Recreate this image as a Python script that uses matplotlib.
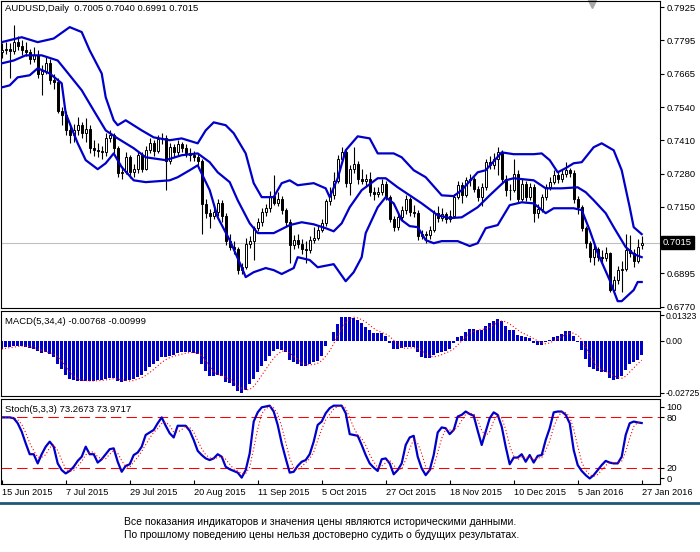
import matplotlib
matplotlib.use("Agg")
import matplotlib.pyplot as plt
import matplotlib.transforms as mtransforms
import numpy as np
import pandas as pd

plt.rcParams["font.family"] = ["Liberation Sans", "DejaVu Sans"]

# ---- daily AUDUSD bars, 15 Jun 2015 .. 27 Jan 2016 ----
opens = [0.7750, 0.7760, 0.7765, 0.7755, 0.7790, 0.7775, 0.7760, 0.7750, 0.7725, 0.7740,
         0.7665, 0.7680, 0.7710, 0.7645, 0.7636, 0.7525, 0.7510, 0.7450, 0.7430, 0.7450,
         0.7470, 0.7440, 0.7455, 0.7380, 0.7375, 0.7370, 0.7365, 0.7420, 0.7430, 0.7380,
         0.7285, 0.7290, 0.7345, 0.7290, 0.7300, 0.7355, 0.7300, 0.7375, 0.7400, 0.7370,
         0.7415, 0.7420, 0.7330, 0.7385, 0.7365, 0.7395, 0.7380, 0.7360, 0.7355, 0.7345,
         0.7330, 0.7165, 0.7130, 0.7120, 0.7135, 0.7170, 0.7120, 0.7020, 0.7000, 0.6990,
         0.6910, 0.6920, 0.7010, 0.7020, 0.7070, 0.7095, 0.7135, 0.7150, 0.7195, 0.7170,
         0.7185, 0.7140, 0.7095, 0.7005, 0.7025, 0.7010, 0.6990, 0.6985, 0.7025, 0.7035,
         0.7065, 0.7090, 0.7175, 0.7200, 0.7255, 0.7340, 0.7365, 0.7245, 0.7300, 0.7320,
         0.7262, 0.7255, 0.7262, 0.7211, 0.7205, 0.7210, 0.7243, 0.7192, 0.7108, 0.7076,
         0.7115, 0.7140, 0.7183, 0.7135, 0.7130, 0.7040, 0.7050, 0.7045, 0.7063, 0.7128,
         0.7110, 0.7125, 0.7108, 0.7120, 0.7192, 0.7237, 0.7200, 0.7256, 0.7260, 0.7224,
         0.7192, 0.7230, 0.7327, 0.7315, 0.7340, 0.7365, 0.7263, 0.7217, 0.7220, 0.7282,
         0.7185, 0.7243, 0.7192, 0.7230, 0.7128, 0.7147, 0.7192, 0.7230, 0.7250, 0.7275,
         0.7260, 0.7282, 0.7295, 0.7285, 0.7185, 0.7153, 0.7070, 0.7012, 0.6960, 0.6990,
         0.6960, 0.6954, 0.6975, 0.6832, 0.6870, 0.6910, 0.6915, 0.6986, 0.6975, 0.6946,
         0.7005]
closes = [0.7760, 0.7765, 0.7755, 0.7790, 0.7775, 0.7760, 0.7750, 0.7725, 0.7740, 0.7665,
          0.7680, 0.7710, 0.7645, 0.7636, 0.7525, 0.7510, 0.7450, 0.7430, 0.7450, 0.7470,
          0.7440, 0.7455, 0.7380, 0.7375, 0.7370, 0.7365, 0.7420, 0.7430, 0.7380, 0.7285,
          0.7290, 0.7345, 0.7290, 0.7300, 0.7355, 0.7300, 0.7375, 0.7400, 0.7370, 0.7415,
          0.7420, 0.7330, 0.7385, 0.7365, 0.7395, 0.7380, 0.7360, 0.7355, 0.7345, 0.7330,
          0.7165, 0.7130, 0.7120, 0.7135, 0.7170, 0.7120, 0.7020, 0.7000, 0.6990, 0.6910,
          0.6920, 0.7010, 0.7020, 0.7070, 0.7095, 0.7135, 0.7150, 0.7195, 0.7170, 0.7185,
          0.7140, 0.7095, 0.7005, 0.7025, 0.7010, 0.6990, 0.6985, 0.7025, 0.7035, 0.7065,
          0.7090, 0.7175, 0.7200, 0.7255, 0.7340, 0.7365, 0.7245, 0.7300, 0.7320, 0.7262,
          0.7255, 0.7262, 0.7211, 0.7205, 0.7210, 0.7243, 0.7192, 0.7108, 0.7076, 0.7115,
          0.7140, 0.7183, 0.7135, 0.7130, 0.7040, 0.7050, 0.7045, 0.7063, 0.7128, 0.7110,
          0.7125, 0.7108, 0.7120, 0.7192, 0.7237, 0.7200, 0.7256, 0.7260, 0.7224, 0.7192,
          0.7230, 0.7327, 0.7315, 0.7340, 0.7365, 0.7263, 0.7217, 0.7220, 0.7282, 0.7185,
          0.7243, 0.7192, 0.7230, 0.7128, 0.7147, 0.7192, 0.7230, 0.7250, 0.7275, 0.7260,
          0.7282, 0.7295, 0.7285, 0.7185, 0.7153, 0.7070, 0.7012, 0.6960, 0.6990, 0.6960,
          0.6954, 0.6975, 0.6832, 0.6870, 0.6910, 0.6915, 0.6986, 0.6975, 0.6946, 0.7000,
          0.7015]
highs = [0.7785, 0.7790, 0.7785, 0.7855, 0.7815, 0.7800, 0.7790, 0.7765, 0.7770, 0.7760,
         0.7700, 0.7735, 0.7725, 0.7665, 0.7650, 0.7540, 0.7525, 0.7475, 0.7475, 0.7500,
         0.7480, 0.7495, 0.7470, 0.7410, 0.7400, 0.7390, 0.7440, 0.7450, 0.7440, 0.7390,
         0.7310, 0.7365, 0.7355, 0.7320, 0.7370, 0.7365, 0.7390, 0.7420, 0.7410, 0.7430,
         0.7440, 0.7430, 0.7400, 0.7395, 0.7410, 0.7405, 0.7395, 0.7380, 0.7370, 0.7360,
         0.7340, 0.7185, 0.7145, 0.7160, 0.7185, 0.7180, 0.7130, 0.7050, 0.7020, 0.7000,
         0.6935, 0.7035, 0.7040, 0.7080, 0.7110, 0.7150, 0.7165, 0.7215, 0.7275, 0.7210,
         0.7195, 0.7150, 0.7105, 0.7045, 0.7050, 0.7030, 0.7020, 0.7040, 0.7075, 0.7080,
         0.7105, 0.7185, 0.7230, 0.7290, 0.7355, 0.7385, 0.7375, 0.7315, 0.7385, 0.7330,
         0.7300, 0.7280, 0.7290, 0.7230, 0.7230, 0.7260, 0.7255, 0.7200, 0.7120, 0.7130,
         0.7155, 0.7200, 0.7190, 0.7160, 0.7140, 0.7065, 0.7060, 0.7080, 0.7140, 0.7155,
         0.7150, 0.7135, 0.7140, 0.7205, 0.7255, 0.7250, 0.7270, 0.7280, 0.7270, 0.7235,
         0.7245, 0.7340, 0.7350, 0.7360, 0.7385, 0.7375, 0.7275, 0.7240, 0.7340, 0.7295,
         0.7260, 0.7255, 0.7245, 0.7240, 0.7165, 0.7205, 0.7240, 0.7270, 0.7295, 0.7290,
         0.7300, 0.7325, 0.7305, 0.7295, 0.7195, 0.7160, 0.7080, 0.7020, 0.7005, 0.7000,
         0.6985, 0.7000, 0.6980, 0.6885, 0.6925, 0.6945, 0.7050, 0.7045, 0.6990, 0.7030,
         0.7040]
lows = [0.7730, 0.7745, 0.7650, 0.7745, 0.7760, 0.7740, 0.7735, 0.7705, 0.7715, 0.7650,
        0.7585, 0.7665, 0.7630, 0.7610, 0.7515, 0.7470, 0.7430, 0.7400, 0.7405, 0.7430,
        0.7420, 0.7405, 0.7360, 0.7350, 0.7345, 0.7340, 0.7350, 0.7405, 0.7360, 0.7270,
        0.7260, 0.7280, 0.7265, 0.7270, 0.7285, 0.7290, 0.7295, 0.7360, 0.7350, 0.7360,
        0.7395, 0.7220, 0.7320, 0.7345, 0.7355, 0.7365, 0.7345, 0.7330, 0.7330, 0.7315,
        0.7050, 0.7110, 0.7070, 0.7105, 0.7120, 0.7095, 0.7005, 0.6985, 0.6970, 0.6895,
        0.6895, 0.6915, 0.6995, 0.6950, 0.7060, 0.7080, 0.7120, 0.7135, 0.7160, 0.7155,
        0.7125, 0.7080, 0.6935, 0.6990, 0.6995, 0.6970, 0.6935, 0.6975, 0.7015, 0.7025,
        0.7055, 0.7080, 0.7160, 0.7185, 0.7245, 0.7325, 0.7230, 0.7200, 0.7285, 0.7240,
        0.7240, 0.7235, 0.7195, 0.7180, 0.7190, 0.7200, 0.7180, 0.7095, 0.7060, 0.7065,
        0.7100, 0.7125, 0.7120, 0.7115, 0.7025, 0.7030, 0.7015, 0.7030, 0.7055, 0.7095,
        0.7100, 0.7090, 0.7095, 0.7110, 0.7185, 0.7170, 0.7190, 0.7235, 0.7210, 0.7175,
        0.7155, 0.7220, 0.7300, 0.7300, 0.7275, 0.7250, 0.7195, 0.7180, 0.7210, 0.7170,
        0.7175, 0.7175, 0.7180, 0.7095, 0.7110, 0.7135, 0.7180, 0.7220, 0.7240, 0.7245,
        0.7250, 0.7270, 0.7270, 0.7170, 0.7125, 0.7060, 0.6995, 0.6940, 0.6930, 0.6945,
        0.6935, 0.6945, 0.6825, 0.6825, 0.6855, 0.6825, 0.6905, 0.6960, 0.6922, 0.6935,
        0.6991]

# Bollinger bands (read at sample bars)
bb_up_idx = [0, 5, 9, 13, 17, 20, 22, 25, 26, 28, 29, 31, 35, 38, 42, 45, 49, 51, 53, 56,
             58, 61, 63, 65, 68, 70, 72, 74, 78, 81, 82, 84, 86, 89, 92, 94, 98, 100, 103, 106,
             110, 113, 115, 119, 121, 125, 128, 133, 135, 137, 139, 141, 143, 145, 148, 150,
             153, 155, 157, 158, 160]
bb_up = [0.7790, 0.7809, 0.7790, 0.7804, 0.7848, 0.7829, 0.7758, 0.7669, 0.7577, 0.7488,
         0.7469, 0.7488, 0.7449, 0.7422, 0.7411, 0.7418, 0.7399, 0.7449, 0.7480, 0.7469,
         0.7438, 0.7360, 0.7245, 0.7191, 0.7191, 0.7245, 0.7256, 0.7237, 0.7245, 0.7225,
         0.7191, 0.7264, 0.7372, 0.7426, 0.7418, 0.7360, 0.7360, 0.7345, 0.7295, 0.7268,
         0.7198, 0.7195, 0.7218, 0.7287, 0.7295, 0.7364, 0.7357, 0.7357, 0.7360, 0.7334,
         0.7287, 0.7303, 0.7322, 0.7326, 0.7384, 0.7399, 0.7372, 0.7295, 0.7152, 0.7075,
         0.7048]
bb_mid_idx = [0, 3, 6, 10, 14, 16, 20, 23, 26, 29, 33, 36, 41, 45, 49, 52, 54, 57, 59, 62,
              64, 68, 72, 75, 78, 81, 83, 85, 87, 90, 94, 96, 99, 102, 105, 109, 112, 115, 119,
              122, 126, 128, 133, 136, 140, 144, 146, 148, 151, 153, 156, 158, 160]
bb_mid = [0.7708, 0.7719, 0.7739, 0.7739, 0.7719, 0.7681, 0.7604, 0.7526, 0.7449, 0.7418,
          0.7380, 0.7345, 0.7334, 0.7353, 0.7360, 0.7326, 0.7287, 0.7249, 0.7179, 0.7090,
          0.7052, 0.7052, 0.7083, 0.7094, 0.7086, 0.7071, 0.7059, 0.7090, 0.7152, 0.7218,
          0.7264, 0.7264, 0.7229, 0.7198, 0.7167, 0.7121, 0.7110, 0.7113, 0.7152, 0.7198,
          0.7256, 0.7264, 0.7256, 0.7225, 0.7225, 0.7229, 0.7210, 0.7179, 0.7129, 0.7075,
          0.6998, 0.6971, 0.6959]
bb_lo_idx = [0, 2, 4, 7, 9, 12, 15, 16, 19, 21, 24, 26, 28, 30, 33, 36, 42, 44, 47, 49,
             52, 54, 57, 60, 61, 63, 66, 68, 70, 73, 74, 77, 79, 83, 86, 88, 90, 91, 94, 96,
             98, 100, 102, 104, 106, 108, 110, 114, 117, 119, 121, 124, 127, 130, 133, 136,
             138, 143, 145, 147, 149, 152, 154, 155, 158, 159, 160]
bb_lo = [0.7615, 0.7623, 0.7654, 0.7662, 0.7689, 0.7669, 0.7631, 0.7515, 0.7399, 0.7334,
         0.7299, 0.7322, 0.7360, 0.7307, 0.7256, 0.7249, 0.7256, 0.7268, 0.7295, 0.7314,
         0.7218, 0.7113, 0.7025, 0.6920, 0.6882, 0.6901, 0.6917, 0.6909, 0.6894, 0.6917,
         0.6959, 0.6948, 0.6920, 0.6932, 0.6866, 0.6901, 0.6959, 0.7052, 0.7152, 0.7191,
         0.7167, 0.7102, 0.7079, 0.7075, 0.7025, 0.7013, 0.7021, 0.7021, 0.7002, 0.7013,
         0.7071, 0.7083, 0.7160, 0.7171, 0.7167, 0.7129, 0.7148, 0.7148, 0.7141, 0.7063,
         0.6975, 0.6870, 0.6789, 0.6789, 0.6832, 0.6863, 0.6863]

# MACD(5,34,4) main line, drawn as histogram
macd_main = [-0.0044, -0.0035, -0.0032, -0.0026, -0.0026, -0.0030, -0.0032, -0.0039, -0.0044, -0.0056,
             -0.0065, -0.0061, -0.0070, -0.0084, -0.0123, -0.0149, -0.0179, -0.0201, -0.0207, -0.0210,
             -0.0210, -0.0210, -0.0214, -0.0210, -0.0207, -0.0205, -0.0201, -0.0196, -0.0196, -0.0210,
             -0.0219, -0.0210, -0.0207, -0.0201, -0.0189, -0.0179, -0.0161, -0.0140, -0.0123, -0.0105,
             -0.0088, -0.0084, -0.0079, -0.0074, -0.0067, -0.0061, -0.0061, -0.0061, -0.0065, -0.0070,
             -0.0123, -0.0161, -0.0184, -0.0184, -0.0179, -0.0184, -0.0219, -0.0224, -0.0236, -0.0266,
             -0.0272, -0.0259, -0.0228, -0.0201, -0.0166, -0.0131, -0.0105, -0.0079, -0.0053, -0.0044,
             -0.0049, -0.0061, -0.0102, -0.0114, -0.0123, -0.0131, -0.0131, -0.0123, -0.0114, -0.0105,
             -0.0079, -0.0026, -0.0004, 0.0044, 0.0088, 0.0123, 0.0126, 0.0123, 0.0119, 0.0109,
             0.0091, 0.0074, 0.0056, 0.0039, 0.0039, 0.0039, 0.0026, -0.0014, -0.0044, -0.0044,
             -0.0040, -0.0035, -0.0035, -0.0035, -0.0061, -0.0084, -0.0091, -0.0091, -0.0074, -0.0067,
             -0.0061, -0.0053, -0.0044, -0.0014, 0.0021, 0.0026, 0.0044, 0.0061, 0.0061, 0.0056,
             0.0056, 0.0079, 0.0091, 0.0105, 0.0114, 0.0102, 0.0079, 0.0056, 0.0056, 0.0032,
             0.0026, 0.0018, 0.0014, -0.0014, -0.0021, -0.0021, -0.0009, 0.0004, 0.0021, 0.0026,
             0.0035, 0.0049, 0.0049, 0.0026, -0.0009, -0.0049, -0.0096, -0.0140, -0.0149, -0.0161,
             -0.0166, -0.0166, -0.0196, -0.0207, -0.0201, -0.0184, -0.0154, -0.0120, -0.0112, -0.0100,
             -0.00768]

# Stochastic(5,3,3) %K
stoch_k = [80, 80, 80, 79, 73, 63, 49, 36, 36, 25,
           36, 45, 51, 45, 25, 17, 13, 16, 21, 28,
           33, 45, 36, 36, 26, 30, 36, 42, 43, 27,
           15, 22, 24, 35, 38, 45, 59, 62, 65, 73,
           80, 70, 61, 56, 70, 70, 70, 64, 53, 40,
           35, 31, 29, 31, 36, 33, 21, 18, 16, 14,
           8, 17, 37, 75, 86, 92, 93, 94, 87, 71,
           49, 31, 14, 15, 22, 27, 29, 36, 51, 71,
           75, 85, 91, 94, 94, 94, 85, 60, 59, 58,
           47, 35, 25, 20, 16, 30, 31, 25, 12, 17,
           25, 47, 56, 58, 33, 19, 11, 17, 35, 62,
           68, 67, 60, 65, 81, 83, 87, 84, 82, 64,
           47, 63, 79, 86, 83, 69, 45, 24, 32, 32,
           36, 27, 35, 26, 34, 35, 53, 67, 86, 87,
           87, 83, 73, 41, 23, 16, 11, 7, 11, 17,
           23, 28, 26, 25, 25, 33, 59, 73, 75, 74,
           73.2673]

date_idx = [0, 16, 32, 48, 64, 80, 96, 112, 128, 144, 160]
date_labels = ["15 Jun 2015", "7 Jul 2015", "29 Jul 2015", "20 Aug 2015", "11 Sep 2015",
               "5 Oct 2015", "27 Oct 2015", "18 Nov 2015", "10 Dec 2015", "5 Jan 2016",
               "27 Jan 2016"]

price_ticks = [0.7925, 0.77964, 0.76679, 0.75393, 0.74107, 0.72821, 0.71536, 0.68964, 0.67679]
price_labels = ["0.7925", "0.7795", "0.7665", "0.7540", "0.7410", "0.7280", "0.7150",
                "0.6895", "0.6770"]
last_price = 0.7015

BLUE = "#0000c8"
FS = 6.8

o = np.array(opens)
c = np.array(closes)
x = np.arange(len(c))
signal = pd.Series(macd_main).rolling(4, min_periods=1).mean()
stoch_d = pd.Series(stoch_k).rolling(3, min_periods=1).mean()

W, H = 700, 552


def rect(l, t, r, b):
    return [l / W, 1 - b / H, (r - l) / W, (b - t) / H]


fig = plt.figure(figsize=(W / 100, H / 100), dpi=100)
ax = fig.add_axes(rect(1, 0.5, 660, 308))
axm = fig.add_axes(rect(1, 311, 660, 396), sharex=ax)
axs = fig.add_axes(rect(1, 399, 660, 484), sharex=ax)

# ---- price panel ----
ax.axhline(last_price, color="#c0c0c0", lw=0.8, zorder=1)
ax.vlines(x, lows, highs, color="black", lw=0.8, zorder=2)
body_lo = np.minimum(o, c)
body_h = np.maximum(np.abs(c - o), 0.00006)
ax.bar(x, body_h, bottom=body_lo, width=0.6,
       color=np.where(c >= o, "white", "black"), edgecolor="black", linewidth=0.7, zorder=3)
for idx, vals in [(bb_up_idx, bb_up), (bb_mid_idx, bb_mid), (bb_lo_idx, bb_lo)]:
    ax.plot(idx, vals, color=BLUE, lw=1.6, zorder=4)

ax.set_ylim(0.67626, 0.79509)
ax.set_xlim(-0.175, 164.575)
ax.yaxis.tick_right()
ax.set_yticks(price_ticks)
ax.set_yticklabels(price_labels)
ax.text(0.006, 0.974, "AUDUSD,Daily  0.7005 0.7040 0.6991 0.7015", transform=ax.transAxes,
        fontsize=FS, va="center", ha="left")
trans = mtransforms.blended_transform_factory(ax.transAxes, ax.transData)
ax.text(1.004, last_price, "0.7015", transform=trans, color="white", fontsize=FS,
        va="center", ha="left",
        bbox=dict(boxstyle="square,pad=0.2", fc="black", ec="black"))
ax.plot([0.897], [0.988], marker="v", color="#a8a8a8", ms=6, transform=ax.transAxes,
        clip_on=False)

# ---- MACD panel ----
axm.bar(x, macd_main, width=0.7, color=BLUE, linewidth=0)
axm.plot(x, signal, color="red", lw=0.8, ls=(0, (1, 2)))
axm.set_ylim(-0.02903, 0.01559)
axm.yaxis.tick_right()
axm.set_yticks([0.01323, 0.0, -0.02725])
axm.set_yticklabels(["0.01323", "0.00", "-0.02725"])
axm.text(0.006, 0.88, "MACD(5,34,4) -0.00768 -0.00999", transform=axm.transAxes,
         fontsize=FS, va="center", ha="left")

# ---- Stochastic panel ----
axs.axhline(80, color="red", lw=0.75, ls=(0, (10, 5)))
axs.axhline(20, color="red", lw=0.75, ls=(0, (10, 5)))
axs.plot(x, stoch_k, color=BLUE, lw=1.6)
axs.plot(x, stoch_d, color="red", lw=0.8, ls=(0, (1, 2)))
axs.set_ylim(0.4, 101.96)
axs.yaxis.tick_right()
axs.set_yticks([92.7, 80, 20, 7.5])
axs.set_yticklabels(["100", "80", "20", "0"])
axs.text(0.006, 0.88, "Stoch(5,3,3) 73.2673 73.9717", transform=axs.transAxes,
         fontsize=FS, va="center", ha="left")

axs.set_xticks(date_idx)
axs.set_xticklabels(date_labels)
for lab in axs.get_xticklabels():
    lab.set_ha("left")

for a in (ax, axm, axs):
    a.tick_params(axis="y", direction="out", length=3, pad=1.5, labelsize=FS,
                  left=False, labelleft=False, right=True, labelright=True)
    for s in a.spines.values():
        s.set_color("black")
        s.set_linewidth(0.8)
axm.tick_params(axis="y", labelsize=6.2, pad=1)
for a in (ax, axm):
    a.tick_params(axis="x", bottom=False, labelbottom=False)
axs.tick_params(axis="x", direction="in", length=3, pad=3, labelsize=6.6)

# footer
fig.add_artist(plt.Line2D([0, 1], [1 - 503 / H] * 2, color="#1e5876", lw=2,
                          transform=fig.transFigure))
fig.text(124 / W, 1 - 522 / H,
         "Все показания индикаторов и значения цены являются историческими данными.",
         fontsize=7.5, va="center", ha="left")
fig.text(124 / W, 1 - 535 / H,
         "По прошлому поведению цены нельзя достоверно судить о будущих результатах.",
         fontsize=7.5, va="center", ha="left")

fig.savefig("out.png", dpi=100, facecolor="white")
